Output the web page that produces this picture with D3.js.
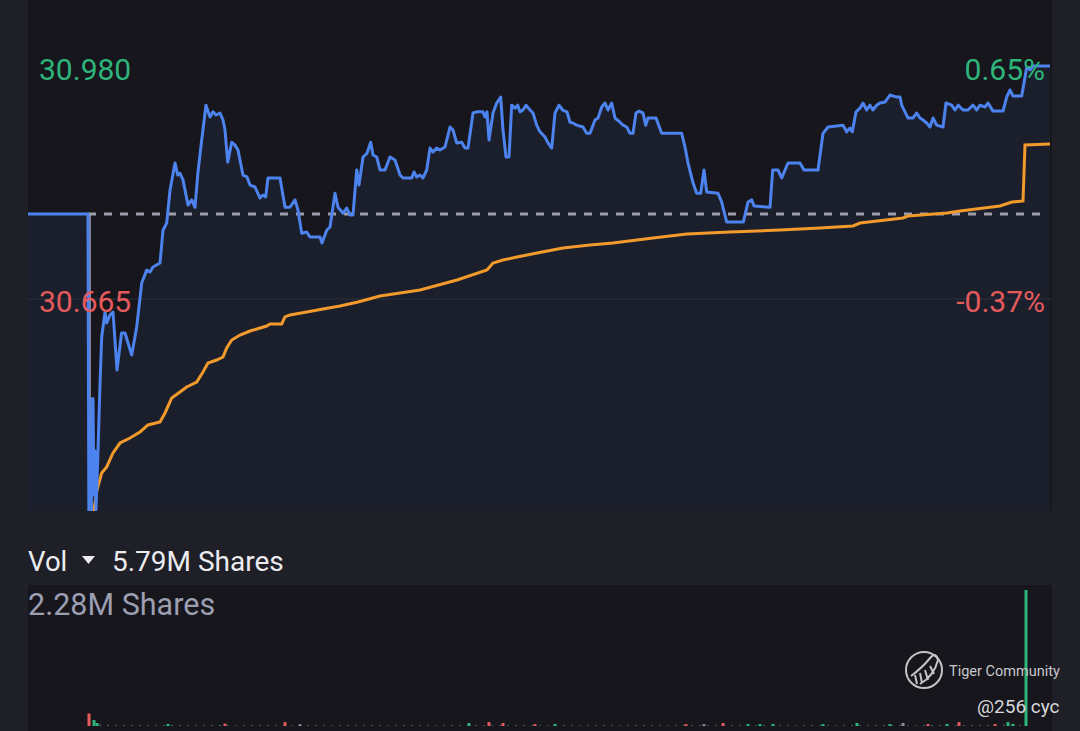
<!DOCTYPE html>
<html>
<head>
<meta charset="utf-8">
<script src="https://cdn.jsdelivr.net/npm/d3@7"></script>
<style>
  body { margin: 0; background: #1f1f27; }
  svg { display: block; font-family: Roboto, "Noto Sans", sans-serif; }
</style>
</head>
<body>
<svg id="chart" width="1080" height="731"></svg>
<script>
// price scale labels
var priceTop = 30.980;
var priceLow = 30.665;
var prevClose = 30.78;
var pctTop = "0.65%";
var pctLow = "-0.37%";
var openTime = 31;

// last price, [time step, price]
var priceLine = [
    [0, 30.78], [30, 30.78], [30.5, 30.30], [31.5, 30.30], [32, 30.53], [32.5, 30.53], [33, 30.40],
    [33.5, 30.46], [34, 30.38], [35, 30.46], [36, 30.55], [36.85, 30.6136], [38.5, 30.6474],
    [39.35, 30.6326], [41, 30.6434], [42.5, 30.6474], [44.5, 30.569], [46.8, 30.619], [48.5, 30.619],
    [51.85, 30.5893], [54.35, 30.6272], [56.85, 30.6866], [59.35, 30.704], [61, 30.7015], [62.5, 30.7083],
    [66, 30.7137], [67.5, 30.758], [69.35, 30.7677], [71, 30.812], [73.5, 30.849], [74.85, 30.8326],
    [76, 30.835], [77.5, 30.826], [80, 30.792], [81.85, 30.799], [83.5, 30.789], [85, 30.8367],
    [86.85, 30.880], [89, 30.927], [91, 30.911], [92.5, 30.918], [94, 30.9137], [96, 30.9165],
    [97.5, 30.907], [98.5, 30.8935], [99.85, 30.850], [101.85, 30.877], [103.5, 30.873], [105, 30.8664],
    [107.5, 30.8326], [109.5, 30.830], [111, 30.819], [113.5, 30.8164], [116, 30.8015], [117.5, 30.8056],
    [118.85, 30.803], [120, 30.8286], [126, 30.8286], [128.5, 30.789], [131, 30.789], [133.5, 30.799],
    [135, 30.7853], [136.85, 30.754], [139.35, 30.7556], [141, 30.7488], [146, 30.7488], [147, 30.7407],
    [149.35, 30.758], [151, 30.7623], [153.5, 30.808], [155, 30.789], [157.5, 30.781], [159.35, 30.788],
    [161, 30.7786], [162.5, 30.7786], [164.35, 30.8394], [165.5, 30.819], [167.5, 30.857], [169.5, 30.862],
    [171.35, 30.877], [172.5, 30.8597], [174.35, 30.857], [176, 30.8394], [178.5, 30.8394], [181, 30.857],
    [183.5, 30.853], [186, 30.8326], [187.5, 30.8286], [191.85, 30.8286], [193, 30.8367], [194.35, 30.830],
    [196, 30.8326], [197.5, 30.8286], [199.35, 30.8394], [201, 30.869], [202.5, 30.8637], [204.35, 30.869],
    [206, 30.8664], [208.5, 30.8705], [211, 30.8975], [212.5, 30.8935], [214.35, 30.876], [216.85, 30.877],
    [218.5, 30.869], [220, 30.869], [222.5, 30.9165], [224.35, 30.918], [227.5, 30.918], [228.5, 30.911],
    [229.5, 30.918], [230.5, 30.880], [232.5, 30.9165], [234.35, 30.930], [236.35, 30.938], [237.5, 30.8935],
    [239, 30.857], [240.5, 30.857], [241.85, 30.927], [243.5, 30.923], [244.85, 30.927], [246, 30.918],
    [247.5, 30.9205], [249, 30.927], [251, 30.9205], [252.5, 30.9165], [254.35, 30.900], [256, 30.891],
    [258.5, 30.884], [260, 30.876], [261.85, 30.869], [263.5, 30.9165], [265.5, 30.927], [267.35, 30.9205],
    [269.5, 30.918], [271, 30.904], [272.5, 30.903], [274.35, 30.900], [277.5, 30.8975], [279.35, 30.889],
    [281, 30.889], [283.5, 30.907], [285, 30.9097], [286.85, 30.9246], [288.5, 30.930], [290, 30.9205],
    [291.85, 30.930], [293.5, 30.9097], [296, 30.904], [297.5, 30.900], [299.35, 30.8975], [301, 30.889],
    [302.5, 30.889], [304, 30.9165], [305.5, 30.919], [307.5, 30.9165], [308.85, 30.900], [310, 30.9097],
    [314, 30.9097], [316.85, 30.889], [326.85, 30.889], [328.5, 30.8705], [330, 30.849], [332.5, 30.822],
    [334.35, 30.808], [336.35, 30.808], [338, 30.8394], [339.35, 30.8097], [345, 30.808], [346.85, 30.796],
    [349.35, 30.769], [357.65, 30.769], [360, 30.796], [361.85, 30.799], [363, 30.7907], [371, 30.789],
    [372.35, 30.8394], [375, 30.8394], [376.85, 30.8286], [380, 30.849], [386, 30.849], [388, 30.8394],
    [395, 30.8394], [397.5, 30.889], [400, 30.8975], [407.5, 30.900], [409.35, 30.891], [411, 30.8962],
    [412.15, 30.891], [414, 30.918], [416, 30.923], [417.5, 30.930], [419.35, 30.9205], [421, 30.927],
    [422.5, 30.9205], [424.35, 30.927], [426, 30.930], [428.5, 30.9313], [431, 30.9408], [434.35, 30.938],
    [436, 30.938], [436.85, 30.927], [438.5, 30.918], [440, 30.9097], [442.5, 30.9097], [444.35, 30.9165],
    [446, 30.9097], [447.5, 30.907], [449.35, 30.903], [451, 30.8975], [452.5, 30.9097], [454.35, 30.900],
    [457.5, 30.8975], [459, 30.930], [461.85, 30.927], [463.5, 30.9205], [465.15, 30.927], [467.5, 30.9205],
    [470, 30.9205], [472.5, 30.927], [474.35, 30.9205], [476, 30.927], [478.5, 30.9246], [480, 30.930],
    [482.5, 30.919], [487.5, 30.919], [489.35, 30.938], [491, 30.9476], [492.5, 30.9394], [496.85, 30.9394],
    [498, 30.957], [499.35, 30.9786], [501, 30.9746], [502.5, 30.980], [511, 30.980]
];

// average price
var avgLine = [
    [32, 30.366], [33.5, 30.3892], [34.5, 30.4068], [36.85, 30.4298], [39.35, 30.4379], [42.5, 30.4568],
    [46, 30.4703], [51, 30.4771], [56, 30.4852], [60, 30.4947], [66, 30.4987], [68.5, 30.5109],
    [71.85, 30.5312], [76, 30.5393], [79.35, 30.5461], [84.35, 30.5528], [87.5, 30.5663], [90, 30.5785],
    [94.35, 30.5825], [97.5, 30.5866], [99.35, 30.5988], [101.85, 30.6096], [106, 30.6163], [111, 30.6217],
    [119.35, 30.6285], [121, 30.6312], [126.85, 30.6312], [128.5, 30.6407], [131, 30.6434], [139.35, 30.6474],
    [147.5, 30.6515], [156, 30.6555], [165, 30.6609], [176, 30.6691], [196, 30.6772], [214.5, 30.6907],
    [229.5, 30.7042], [232.5, 30.7137], [237.5, 30.7177], [244.5, 30.7218], [254.5, 30.7272], [267.5, 30.7339],
    [281, 30.738], [292.5, 30.7407], [312.5, 30.7475], [329.5, 30.7529], [351, 30.7556], [376, 30.7583],
    [396, 30.761], [412.5, 30.7637], [416, 30.7677], [437.5, 30.7745], [440, 30.7772], [459.5, 30.7813],
    [466, 30.784], [486, 30.7907], [492, 30.7961], [497.5, 30.7975], [498.5, 30.8732], [511, 30.8745]
];

// volume in thousands of shares
var volTotal = "5.79M Shares";
var volMaxLabel = "2.28M Shares";
var volMax = 2280;
var volMinorStart = 36;
var volMinorStep = 4;
var volMinor = [
    28, 22, 20, 18, 16, 18, 15, 14, 16, 20, 18, 15, 14, 13, 16, 18, 14, 12, 15, 17,
    20, 16, 14, 13, 12, 15, 18, 16, 14, 12, 15, 17, 14, 13, 16, 15, 12, 14, 18, 16,
    15, 13, 12, 14, 17, 15, 13, 16, 14, 12, 13, 15, 18, 16, 14, 13, 12, 15, 16, 14,
    12, 13, 15, 17, 14, 12, 13, 16, 18, 15, 13, 12, 14, 16, 15, 13, 12, 14, 17, 15,
    14, 12, 13, 15, 16, 14, 13, 12, 15, 17, 16, 14, 12, 13, 15, 14, 13, 16, 18, 15,
    14, 13, 12, 15, 17, 16, 14, 13, 15, 18, 20, 16, 18, 22, 25, 20
];
var volMajor = [
    [30.5, 210, "d"], [33, 100, "u"], [34.5, 50, "u"], [70, 35, "u"], [98.5, 40, "d"], [128.5, 65, "d"],
    [136, 30, "n"], [220.5, 50, "u"], [230.5, 65, "d"], [237.5, 50, "d"], [253.5, 32, "d"], [263.5, 32, "u"],
    [329, 32, "d"], [338, 30, "n"], [347.5, 50, "d"], [360, 32, "u"], [366, 32, "u"], [372.5, 32, "u"],
    [397.5, 32, "u"], [414.5, 50, "u"], [431, 32, "u"], [437.5, 50, "n"], [450, 32, "d"], [459.5, 32, "u"],
    [465.5, 65, "d"], [483.5, 32, "d"], [490, 65, "u"], [492.5, 35, "u"], [499, 2280, "u"]
];

var green = "#2eb57b", red = "#e45a5d";
var svg = d3.select("#chart");

var left = 28, right = 1052, mainBottom = 511;
var x = d3.scaleLinear().domain([0, 512]).range([left, right]);
var y = d3.scaleLinear().domain([priceLow, priceTop]).range([299, 66]);
var yv = d3.scaleLinear().domain([0, volMax]).range([726, 590]);

// panels
svg.append("rect").attr("x", left).attr("y", 0).attr("width", right - left).attr("height", mainBottom).attr("fill", "#16161c");
svg.append("rect").attr("x", left).attr("y", 585).attr("width", right - left).attr("height", 146).attr("fill", "#16161c");

svg.append("clipPath").attr("id", "mainClip")
    .append("rect").attr("x", left).attr("y", 0).attr("width", right - left).attr("height", mainBottom);

var main = svg.append("g").attr("clip-path", "url(#mainClip)");

var area = d3.area()
    .x(function(d) { return x(d[0]); })
    .y0(mainBottom)
    .y1(function(d) { return y(d[1]); });

main.append("path").datum(priceLine).attr("d", area).attr("fill", "#1b1f2b");

// grid at the low price
main.append("line")
    .attr("x1", left).attr("x2", right)
    .attr("y1", y(priceLow)).attr("y2", y(priceLow))
    .attr("stroke", "#2c303c").attr("stroke-width", 1);

// previous close
main.append("line")
    .attr("x1", x(30)).attr("x2", 1045)
    .attr("y1", y(prevClose)).attr("y2", y(prevClose))
    .attr("stroke", "#9d9dab").attr("stroke-width", 3)
    .attr("stroke-dasharray", "8,8");

// open marker
main.append("line")
    .attr("x1", x(openTime)).attr("x2", x(openTime))
    .attr("y1", y(prevClose)).attr("y2", mainBottom)
    .attr("stroke", "#a9a9b8").attr("stroke-width", 1.5);

var line = d3.line()
    .x(function(d) { return x(d[0]); })
    .y(function(d) { return y(d[1]); });

main.append("path").datum(avgLine).attr("d", line)
    .attr("fill", "none").attr("stroke", "#f29a2c").attr("stroke-width", 3);

main.append("path").datum(priceLine).attr("d", line)
    .attr("fill", "none").attr("stroke", "#4d83ee").attr("stroke-width", 3)
    .attr("stroke-linejoin", "round");

// price labels
svg.append("text").attr("x", 39).attr("y", 80).attr("font-size", 30).attr("fill", green).text(priceTop.toFixed(3));
svg.append("text").attr("x", 1045).attr("y", 80).attr("font-size", 30).attr("fill", green).attr("text-anchor", "end").text(pctTop);
svg.append("text").attr("x", 39).attr("y", 312).attr("font-size", 30).attr("fill", red).text(priceLow.toFixed(3));
svg.append("text").attr("x", 1045).attr("y", 312).attr("font-size", 30).attr("fill", red).attr("text-anchor", "end").text(pctLow);

// volume header
svg.append("text").attr("x", 28).attr("y", 571).attr("font-size", 27.5).attr("fill", "#ececf0").text("Vol");
svg.append("path").attr("d", "M82,556 L95,556 L88.5,564 Z").attr("fill", "#ececf0");
svg.append("text").attr("x", 112).attr("y", 571).attr("font-size", 28).attr("fill", "#ececf0").text(volTotal);
svg.append("text").attr("x", 28).attr("y", 615).attr("font-size", 30.5).attr("fill", "#9c9eb1").text(volMaxLabel);

// volume bars
var minorBars = svg.selectAll(".vminor")
    .data(volMinor);

minorBars.enter().append("rect")
    .attr("class", "vminor")
    .attr("x", function(d, i) { return x(volMinorStart + i * volMinorStep) - 1; })
    .attr("width", 2)
    .attr("y", function(d) { return yv(d); })
    .attr("height", function(d) { return yv(0) - yv(d); })
    .attr("fill", "#3f7a66")
    .attr("opacity", 0.8);

svg.selectAll(".vmajor")
    .data(volMajor)
    .enter().append("rect")
    .attr("class", "vmajor")
    .attr("x", function(d) { return x(d[0]) - 1.5; })
    .attr("width", 3)
    .attr("y", function(d) { return yv(d[1]); })
    .attr("height", function(d) { return yv(0) - yv(d[1]); })
    .attr("fill", function(d) {
        if (d[2] == "u") return green;
        if (d[2] == "d") return red;
        return "#8f8f9c";
    });

// watermark
var wm = svg.append("g").attr("fill", "none").attr("stroke", "#c4c4c8").attr("stroke-width", 2);
wm.append("circle").attr("cx", 924).attr("cy", 670).attr("r", 18);
wm.append("path").attr("d", "M911,676 Q922,668 931,657 Q936,652 938,660 Q934,676 920,684");
wm.append("path").attr("d", "M915,675 L917,684 M920,673 L922,683 M925,670 L928,680 M930,666 L934,674");
svg.append("text").attr("x", 949).attr("y", 676).attr("font-size", 14.5).attr("fill", "#c8c8cc").text("Tiger Community");
svg.append("text").attr("x", 977).attr("y", 713).attr("font-size", 19).attr("fill", "#d6d6da").text("@256 cyc");
</script>
</body>
</html>
